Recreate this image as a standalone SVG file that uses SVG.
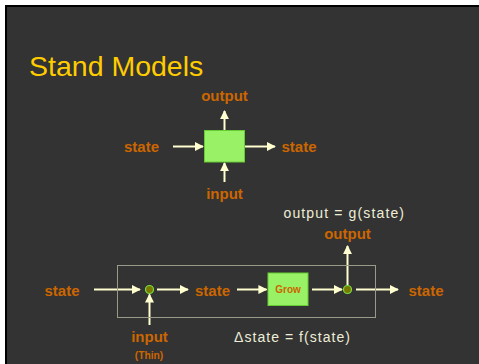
<svg xmlns="http://www.w3.org/2000/svg" width="479" height="364" viewBox="0 0 479 364">
<defs>
<style>
.lbl{font-family:"Liberation Sans",Arial,sans-serif;font-weight:bold;font-size:15px;fill:#CC6600;text-anchor:middle}
.eq{font-family:"Liberation Sans",Arial,sans-serif;font-size:14px;fill:#EEEED8}
.arr{stroke:#FFFFD0;stroke-width:2;fill:none;marker-end:url(#ah)}
.box{fill:#99F266;stroke:#66CC33;stroke-width:1}
.dot{fill:#7A7A00;stroke:#77DD44;stroke-width:1.2}
</style>
<marker id="ah" viewBox="0 0 10 10" refX="9" refY="5" markerWidth="4.5" markerHeight="4.5" orient="auto" markerUnits="strokeWidth">
<path d="M0,0 L10,5 L0,10 Z" fill="#FFFFD0"/>
</marker>
</defs>
<rect x="0" y="0" width="479" height="364" fill="#FFFFFF"/>
<rect x="5" y="5" width="474" height="359" fill="#000000"/>
<rect x="7" y="7" width="472" height="357" fill="#333333"/>
<text x="29" y="76" font-family="Liberation Sans,Arial,sans-serif" font-size="28.5" fill="#FFCC00">Stand Models</text>

<g id="connectors">
<line class="arr" x1="173" y1="146.5" x2="203" y2="146.5"/>
<line class="arr" x1="245" y1="146.5" x2="275" y2="146.5"/>
<line class="arr" x1="224.5" y1="130" x2="224.5" y2="111"/>
<line class="arr" x1="224.5" y1="182" x2="224.5" y2="163"/>
<line class="arr" x1="94" y1="289.5" x2="140" y2="289.5"/>
<line class="arr" x1="157" y1="289.5" x2="188" y2="289.5"/>
<line class="arr" x1="237" y1="289.5" x2="266.5" y2="289.5"/>
<line class="arr" x1="312" y1="289.5" x2="342" y2="289.5"/>
<line class="arr" x1="347.5" y1="285" x2="347.5" y2="246"/>
<line class="arr" x1="356" y1="289.5" x2="398" y2="289.5"/>
<line class="arr" x1="149.5" y1="325" x2="149.5" y2="294.5"/>
</g>

<g id="top-model">
<rect class="box" x="204.5" y="130.5" width="40" height="31.5"/>
</g>
<g id="top-labels">
<text class="lbl" x="224.5" y="100.5">output</text>
<text class="lbl" x="141.5" y="151.5">state</text>
<text class="lbl" x="299" y="151.5">state</text>
<text class="lbl" x="224.5" y="198.5">input</text>
</g>

<g id="frame">
<rect x="117.5" y="265.5" width="258" height="52" fill="none" stroke="#9A9A88" stroke-width="1"/>
</g>
<g id="in-node">
<circle class="dot" cx="149.5" cy="289.5" r="4"/>
</g>
<g id="grow">
<rect class="box" x="268" y="273" width="40" height="32.5" stroke="none"/>
<text x="288" y="293.3" font-family="Liberation Sans,Arial,sans-serif" font-weight="bold" font-size="10" fill="#CC6600" text-anchor="middle">Grow</text>
</g>
<g id="out-node">
<circle class="dot" cx="347.5" cy="289.5" r="4"/>
</g>
<g id="bottom-labels">
<text class="lbl" x="62" y="296">state</text>
<text class="lbl" x="212.5" y="296">state</text>
<text class="lbl" x="426" y="296">state</text>
<text class="lbl" x="347.5" y="239">output</text>
<text class="lbl" x="149.5" y="341.5">input</text>
<text x="149" y="359.3" font-family="Liberation Sans,Arial,sans-serif" font-weight="bold" font-size="10.3" fill="#CC6600" text-anchor="middle">(Thin)</text>
<text class="eq" x="283.5" y="217.5" textLength="120.5">output = g(state)</text>
<text class="eq" x="234" y="341.5" textLength="116">Δstate = f(state)</text>
</g>
</svg>
